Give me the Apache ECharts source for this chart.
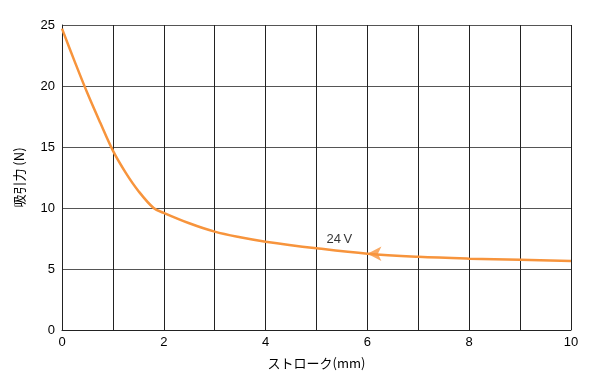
<!DOCTYPE html>
<html><head><meta charset="utf-8">
<script src="https://cdn.jsdelivr.net/npm/echarts@6/dist/echarts.min.js"></script>
<style>html,body{margin:0;padding:0;background:#fff}#c{width:596px;height:384px}</style>
</head><body><div id="c"></div>
<script>
const strokeMm = [0, 0.25, 0.5, 0.75, 1, 1.25, 1.5, 1.8, 2, 2.5, 3, 3.5, 4, 5, 6, 7, 8, 9, 10];
const forceN = [24.7, 22.0, 19.4, 17.0, 14.7, 12.9, 11.4, 10.0, 9.6, 8.75, 8.06, 7.6, 7.24, 6.7, 6.25, 6.0, 5.85, 5.75, 5.65];
const arrowPoint = [6, 6.25];
const labelPoint = [5.45, 7.45];
const seriesLabel = '24\u2009V';
const xTicks = ['0','2','4','6','8','10'];
const yTicks = ['0','5','10','15','20','25'];

const chart = echarts.init(document.getElementById('c'));
const font = '"Liberation Sans", Arial, sans-serif';
chart.setOption({
  animation: false,
  grid: {left: 62, right: 25, top: 25, bottom: 54},
  xAxis: {
    type: 'value', min: 0, max: 10, interval: 1,
    name: 'ストローク(mm)', nameLocation: 'middle', nameGap: 27,
    nameTextStyle: {color: '#000', fontSize: 13, fontFamily: '"Noto Sans CJK JP", sans-serif'},
    axisLine: {show: true, lineStyle: {color: '#222', width: 1}},
    axisTick: {show: false},
    axisLabel: {color: '#000', fontSize: 13, fontFamily: font, margin: 6,
      formatter: v => xTicks.includes(String(v)) ? String(v) : ''},
    splitLine: {show: true, lineStyle: {color: '#222', width: 1}}
  },
  yAxis: {
    type: 'value', min: 0, max: 25, interval: 5,
    name: '吸引力 (N)', nameLocation: 'middle', nameGap: 36, nameRotate: 90,
    nameTextStyle: {color: '#000', fontSize: 13, fontFamily: '"Noto Sans CJK JP", sans-serif'},
    axisLine: {show: true, lineStyle: {color: '#222', width: 1}},
    axisTick: {show: false},
    axisLabel: {color: '#000', fontSize: 13, fontFamily: font, margin: 7,
      formatter: v => yTicks.includes(String(v)) ? String(v) : ''},
    splitLine: {show: true, lineStyle: {color: '#555', width: 1}}
  },
  series: [
    {
      type: 'line', smooth: 0.35, showSymbol: false,
      data: strokeMm.map((x, i) => [x, forceN[i]]),
      lineStyle: {color: '#f7943c', width: 2.5},
      itemStyle: {color: '#f7943c'}
    },
    {
      type: 'scatter', symbol: 'arrow', symbolSize: [11, 14], symbolRotate: 90,
      data: [arrowPoint], itemStyle: {color: '#f7943c'}, z: 5
    },
    {
      type: 'scatter', symbolSize: 0,
      data: [labelPoint],
      label: {show: true, position: 'inside', formatter: seriesLabel, color: '#000', fontSize: 13, fontFamily: font}
    }
  ]
});
</script></body></html>
